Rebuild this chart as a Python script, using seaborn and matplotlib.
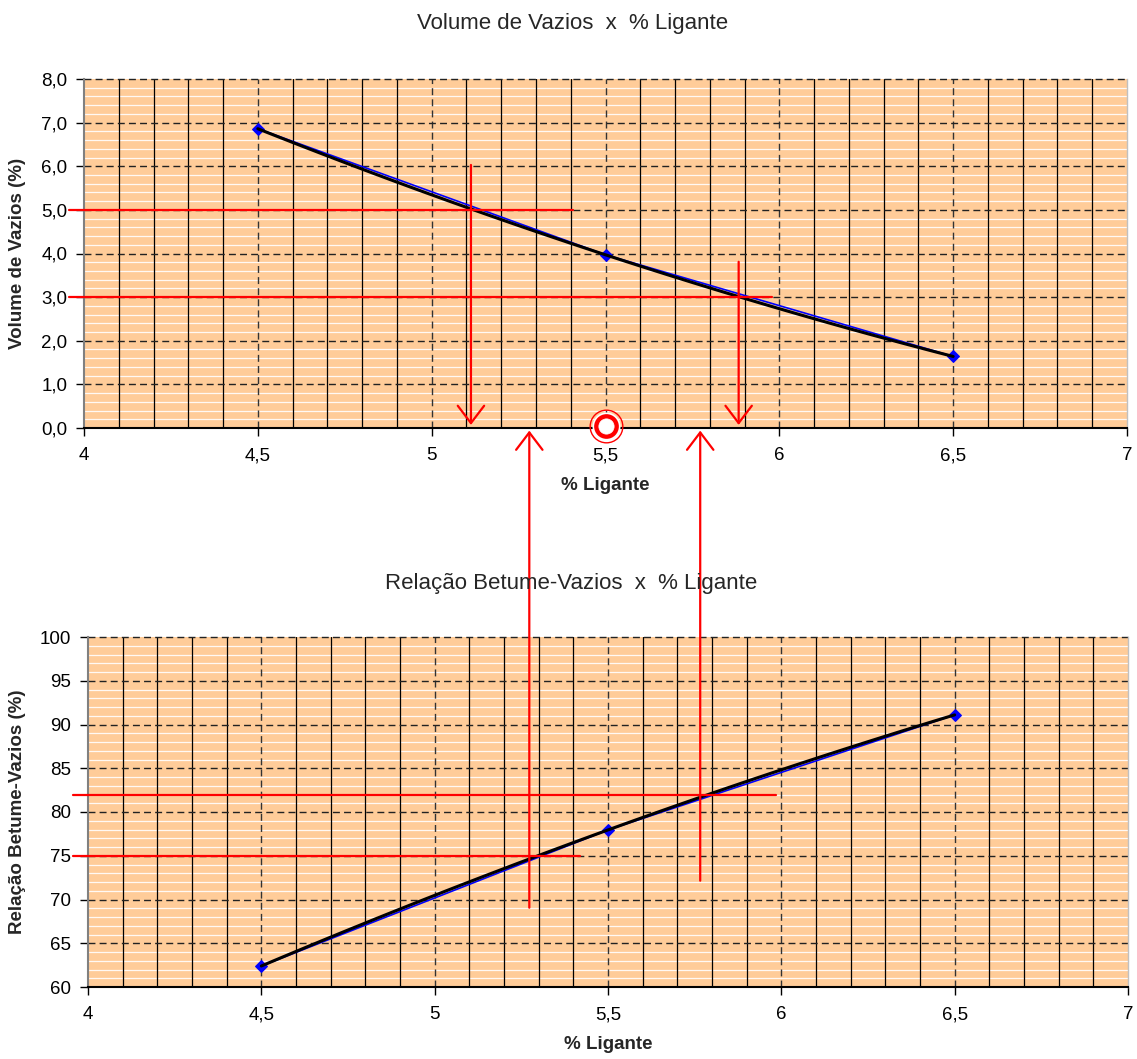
import matplotlib
matplotlib.use('Agg')
import matplotlib.pyplot as plt
from matplotlib.ticker import FuncFormatter, MultipleLocator
from matplotlib.transforms import blended_transform_factory
import numpy as np
import pandas as pd
import seaborn as sns

# data
ligante = [4.5, 5.5, 6.5]
vazios = [6.86, 3.97, 1.64]
rbv = [62.4, 77.95, 91.1]

# red construction lines (criteria and read-off values)
vv_limits = [5.0, 3.0]          # volume de vazios limits
vv_line_ends = [5.406, 5.978]
vv_read = [5.113, 5.883]        # % ligante read on top chart
vv_read_top = [6.03, 3.81]
rbv_limits = [75.0, 82.0]
rbv_line_ends = [5.419, 5.985]
rbv_read = [5.273, 5.766]       # % ligante read on bottom chart
rbv_read_bottom = [69.06, 72.15]
teor_otimo = 5.5

sns.set_style('white')
plt.rcParams['font.family'] = ['Liberation Sans', 'DejaVu Sans']

W, H = 1137, 1059
fig = plt.figure(figsize=(W / 100, H / 100), dpi=100)
ax1 = fig.add_axes([84 / W, 1 - 428 / H, 1043 / W, 349 / H])
ax2 = fig.add_axes([88 / W, 1 - 987 / H, 1040 / W, 350 / H])

bg = '#FFCC99'
red = '#FF0000'
tick_fs = 13.5
lab_fs = 13.5


def style_axes(ax, ymin, ymax, ymajor, ywhite, fmt):
    ax.set_facecolor(bg)
    ax.set_xlim(4, 7)
    ax.set_ylim(ymin, ymax)
    # white stripes of the fill pattern
    for yv in np.arange(ymin + ywhite, ymax, ywhite):
        if abs(yv / ymajor - round(yv / ymajor)) > 1e-6:
            ax.axhline(yv, color='white', lw=0.9, alpha=0.9, zorder=0.5)
    # minor vertical lines every 0.1
    for xv in np.arange(4.1, 7.0, 0.1):
        if abs(xv * 2 - round(xv * 2)) > 1e-6:
            ax.axvline(xv, color='black', lw=0.9, zorder=0.6)
    # major dashed grid
    for xv in np.arange(4.5, 7.0, 0.5):
        ax.axvline(xv, color='#333333', lw=1.0, ls=(0, (5, 3)), zorder=0.7)
    for yv in np.arange(ymin + ymajor, ymax + 1e-6, ymajor):
        ax.axhline(yv, color='#222222', lw=1.0, ls=(0, (5, 3)), zorder=0.7,
                   clip_on=False)
    ax.xaxis.set_major_locator(MultipleLocator(0.5))
    ax.yaxis.set_major_locator(MultipleLocator(ymajor))
    ax.xaxis.set_major_formatter(FuncFormatter(lambda v, p: f'{v:g}'.replace('.', ',')))
    ax.yaxis.set_major_formatter(FuncFormatter(fmt))
    ax.tick_params(axis='x', direction='out', length=6, width=1, pad=8,
                   labelsize=tick_fs, bottom=True, colors='black')
    ax.tick_params(axis='y', direction='out', length=6, width=1, pad=6,
                   labelsize=tick_fs, left=True, colors='black')
    ax.spines['top'].set_visible(False)
    ax.spines['left'].set_color('#808080')
    ax.spines['left'].set_linewidth(1.5)
    ax.spines['bottom'].set_color('black')
    ax.spines['bottom'].set_linewidth(1.5)
    ax.spines['right'].set_color('#C0C0C0')
    ax.spines['right'].set_linewidth(1.0)


style_axes(ax1, 0, 8, 1, 0.2, lambda v, p: f'{v:.1f}'.replace('.', ','))
style_axes(ax2, 60, 100, 5, 1, lambda v, p: f'{v:g}')

df = pd.DataFrame({'ligante': ligante, 'vazios': vazios, 'rbv': rbv})

for ax, col in [(ax1, 'vazios'), (ax2, 'rbv')]:
    sns.lineplot(data=df, x='ligante', y=col, ax=ax, color='blue', lw=1.2,
                 marker='D', markersize=6.5, markeredgecolor='blue', zorder=3)
    sns.regplot(data=df, x='ligante', y=col, ax=ax, order=2, ci=None,
                scatter=False, truncate=True,
                line_kws=dict(color='black', lw=2.2, zorder=4))
    ax.set_xlim(4, 7)

ax1.set_ylim(0, 8)
ax2.set_ylim(60, 100)
ax1.set_xlabel('% Ligante', fontsize=lab_fs, fontweight='bold', labelpad=9)
ax2.set_xlabel('% Ligante', fontsize=lab_fs, fontweight='bold', labelpad=9)
ax1.set_ylabel('Volume de Vazios (%)', fontsize=lab_fs, fontweight='bold')
ax2.set_ylabel('Relação Betume-Vazios (%)', fontsize=lab_fs, fontweight='bold')
ax1.yaxis.set_label_coords(-58 / 1043, 0.5)
ax2.yaxis.set_label_coords(-62 / 1040, 0.5)

fig.text(573 / W, 1 - 23 / H, 'Volume de Vazios  x  % Ligante',
         ha='center', va='center', fontsize=16)
fig.text(571 / W, 1 - 584 / H, 'Relação Betume-Vazios  x  % Ligante',
         ha='center', va='center', fontsize=16)

# red horizontal criteria lines
for yv, xe in zip(vv_limits, vv_line_ends):
    ax1.plot([3.957, xe], [yv, yv], color=red, lw=1.6, clip_on=False, zorder=6)
for yv, xe in zip(rbv_limits, rbv_line_ends):
    ax2.plot([3.957, xe], [yv, yv], color=red, lw=1.6, clip_on=False, zorder=6)

arrow = dict(arrowstyle='->,head_length=1.25,head_width=0.95', color=red,
             lw=1.6, shrinkA=0, shrinkB=0, mutation_scale=10)

# arrows down on the top chart
for xv, yt in zip(vv_read, vv_read_top):
    ax1.annotate('', xy=(xv, 0.07), xytext=(xv, yt), arrowprops=arrow,
                 annotation_clip=False, zorder=6)

# arrows from bottom chart up to the top chart axis (drawn on ax2 so they sit on top)
tip_coords = blended_transform_factory(ax2.transData, ax1.transData)
for xv, yb in zip(rbv_read, rbv_read_bottom):
    ax2.annotate('', xy=(xv, -0.06), xycoords=tip_coords,
                 xytext=(xv, yb), textcoords='data',
                 arrowprops=arrow, annotation_clip=False, zorder=6)

# optimum binder content marker
ax1.plot([teor_otimo], [0.05], marker='o', ms=23.5, mfc='none', mec=red,
         mew=1.0, clip_on=False, zorder=7)
ax1.plot([teor_otimo], [0.05], marker='o', ms=19.0, mfc=red, mec='white',
         mew=1.2, clip_on=False, zorder=7)
ax1.plot([teor_otimo], [0.05], marker='o', ms=11.0, mfc='white', mec='white',
         mew=0.5, clip_on=False, zorder=8)

fig.savefig('out.png', dpi=100)
